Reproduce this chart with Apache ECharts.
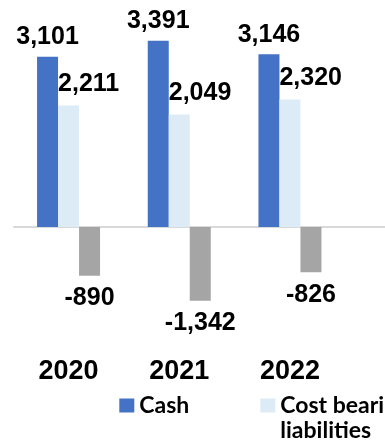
<!DOCTYPE html>
<html>
<head>
<meta charset="utf-8">
<script src="https://cdn.jsdelivr.net/npm/echarts@6/dist/echarts.min.js"></script>
<style>
  html, body { margin: 0; padding: 0; background: #ffffff; }
  #chart { width: 385px; height: 448px; }
</style>
</head>
<body>
<div id="chart"></div>
<script>
// Categories and values (in millions)
const years = ['2020', '2021', '2022'];
const cash = [3101, 3391, 3146];
const costBearing = [2211, 2049, 2320];
const netDebt = [-890, -1342, -826];
const seriesNames = ['Cash', 'Cost bearing\nliabilities', 'Net debt'];

const numFont = '"Liberation Sans", Arial, sans-serif';
const legendFont = 'Lato, "Noto Sans", sans-serif';
const fmt = p => Number(p.value).toLocaleString('en-US');

const gridLeft = 13.2;

const chart = echarts.init(document.getElementById('chart'), null, { renderer: 'canvas' });

chart.setOption({
  animation: false,
  backgroundColor: '#ffffff',
  grid: { left: gridLeft, top: 7.3, width: 332.1, height: 329.5, outerBoundsMode: 'none' },
  legend: {
    left: 119.3,
    top: 368,
    padding: 0,
    itemWidth: 15,
    itemHeight: 14,
    itemGap: 6,
    width: 800,
    icon: 'rect',
    // a leading blank line keeps the first line of a two-line entry level with its swatch
    formatter: name => name.indexOf('\n') >= 0 ? ' \n' + name : name,
    textStyle: {
      fontFamily: legendFont, fontWeight: 'bold', fontSize: 23, color: '#000',
      width: 115, lineHeight: 25
    },
    data: seriesNames
  },
  xAxis: {
    type: 'category',
    data: years,
    position: 'bottom',
    axisLine: { show: false, onZero: false },
    axisTick: { show: false },
    axisLabel: { fontFamily: numFont, fontWeight: 'bold', fontSize: 27, color: '#000', margin: 21, interval: 0 },
    splitLine: { show: false }
  },
  yAxis: {
    type: 'value', min: -2000, max: 4000, interval: 2000, show: false, splitLine: { show: false }
  },
  series: [
    {
      name: seriesNames[0],
      type: 'bar',
      data: cash,
      barWidth: 21,
      barGap: '0%',
      z: 3,
      itemStyle: { color: '#4472C4' },
      label: {
        show: true, position: 'top', distance: 7, formatter: fmt,
        fontFamily: numFont, fontWeight: 'bold', fontSize: 25, color: '#000'
      }
    },
    {
      name: seriesNames[1],
      type: 'bar',
      data: costBearing,
      barWidth: 21,
      barGap: '0%',
      z: 3,
      itemStyle: { color: '#DDEBF7' },
      label: {
        show: true, position: [0, -9], align: 'left', verticalAlign: 'bottom', formatter: fmt,
        fontFamily: numFont, fontWeight: 'bold', fontSize: 25, color: '#000'
      }
    },
    {
      name: seriesNames[2],
      type: 'bar',
      data: netDebt,
      barWidth: 21,
      barGap: '0%',
      z: 3,
      itemStyle: { color: '#A5A5A5' },
      label: {
        show: true, position: 'outside', distance: 10, formatter: fmt,
        fontFamily: numFont, fontWeight: 'bold', fontSize: 25, color: '#000'
      }
    }
  ]
});

// Zero baseline: placed through the value axis and run out to the right edge of the canvas
const zeroY = chart.convertToPixel({ yAxisIndex: 0 }, 0);
chart.setOption({
  graphic: [{
    type: 'line',
    silent: true,
    z: 1,
    shape: { x1: gridLeft, y1: zeroY, x2: chart.getWidth(), y2: zeroY },
    style: { stroke: '#d9d9d9', lineWidth: 2 }
  }]
});
</script>
</body>
</html>
